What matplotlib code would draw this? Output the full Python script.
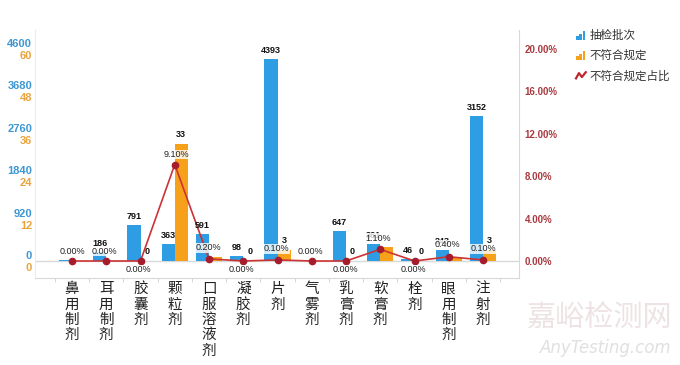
import matplotlib
matplotlib.use('Agg')
import matplotlib.pyplot as plt
import matplotlib.transforms as mtransforms
from matplotlib.legend_handler import HandlerBase
from matplotlib.patches import Rectangle, Patch
from matplotlib.lines import Line2D
import numpy as np

plt.rcParams['font.family'] = ['Noto Sans CJK SC', 'DejaVu Sans']

# ---------------- data ----------------
categories = ['鼻用制剂', '耳用制剂', '胶囊剂', '颗粒剂', '口服溶液剂', '凝胶剂', '片剂',
              '气雾剂', '乳膏剂', '软膏剂', '栓剂', '眼用制剂', '注射剂']
batches = [12, 186, 791, 363, 591, 98, 4393, 3, 647, 361, 46, 243, 3152]
noncompliant = [0, 0, 0, 33, 1, 0, 3, 0, 0, 4, 0, 1, 3]
rate_pct = [0.00, 0.00, 0.00, 9.10, 0.20, 0.00, 0.10, 0.00, 0.00, 1.10, 0.00, 0.40, 0.10]
batch_ticks = [0, 920, 1840, 2760, 3680, 4600]
nc_ticks = [0, 12, 24, 36, 48, 60]
rate_ticks = [0, 4, 8, 12, 16, 20]
series_names = ['抽检批次', '不符合规定', '不符合规定占比']

# ---------------- style ----------------
BLUE = '#2e9de3'
ORANGE = '#f7a11a'
RED = '#cc3333'
DRED = '#a51d2d'
BLUE_TXT = '#3d97d3'
ORANGE_TXT = '#e9a43f'
RATE_TXT = '#a83a3f'
GRID = '#d9d9d9'
NUM_FONT = ['Liberation Sans', 'DejaVu Sans']

show_batch_label = [False, True, True, True, True, True, True, False, True, True, True, True, True]
show_nc_label = [False, False, True, True, False, True, True, False, True, False, True, False, True]
rate_label_dy = [10, 10, -9, 10, 11, -9, 11, 10, -9, 11, -9, 12, 11]   # pixels
rate_label_dx = [0, -2, -2, 2, -1, -2, -1, -1, -1, -2, -1, -1, 0]

W, H = 680, 365
fig = plt.figure(figsize=(W / 100, H / 100), dpi=100)

ax_left, ax_right = 35, 519
ax_top, ax_bottom = 30, 278
zero_px, full_px = 261, 49
ax = fig.add_axes([ax_left / W, 1 - ax_bottom / H, (ax_right - ax_left) / W, (ax_bottom - ax_top) / H])

def lims(vmax):
    span = zero_px - full_px
    return (-(ax_bottom - zero_px) / span * vmax, (zero_px - ax_top) / span * vmax)

x = np.arange(len(categories))
c0, dc = 72, 34.25
bw = 0.38

ax2 = ax.twinx()
ax3 = ax.twinx()
for a in (ax, ax2, ax3):
    a.set_xlim((ax_left - c0) / dc, (ax_right - c0) / dc)
    for s in a.spines.values():
        s.set_visible(False)

ax.set_ylim(*lims(batch_ticks[-1]))
ax2.set_ylim(*lims(nc_ticks[-1]))
ax3.set_ylim(*lims(rate_ticks[-1]))

ax.spines['left'].set_visible(True)
ax.spines['left'].set_color('#ececec')
ax.spines['bottom'].set_visible(True)
ax.spines['bottom'].set_color(GRID)
ax3.spines['right'].set_visible(True)
ax3.spines['right'].set_color(GRID)
ax.axhline(0, color=GRID, lw=1.0, zorder=1)

ax.bar(x - bw / 2, batches, bw, color=BLUE, zorder=2)
ax2.bar(x + bw / 2, noncompliant, bw, color=ORANGE, zorder=2)
ax3.plot(x, rate_pct, color=RED, lw=1.2, marker='o', ms=4.5,
         markerfacecolor=DRED, markeredgecolor=DRED, zorder=4)

# y ticks
ax.set_yticks(batch_ticks)
ax.set_yticklabels([str(v) for v in batch_ticks])
ax2.yaxis.tick_left()
ax2.set_yticks(nc_ticks)
ax2.set_yticklabels([str(v) for v in nc_ticks])
ax3.set_yticks(rate_ticks)
ax3.set_yticklabels(['%.2f%%' % v for v in rate_ticks])

ax.tick_params(axis='y', length=0, pad=2, labelcolor=BLUE_TXT)
ax2.tick_params(axis='y', length=0, pad=2, labelcolor=ORANGE_TXT)
ax3.tick_params(axis='y', length=0, pad=4, labelcolor=RATE_TXT)
for lab in ax.get_yticklabels():
    lab.set_fontfamily(NUM_FONT); lab.set_fontweight('bold'); lab.set_fontsize(8)
    lab.set_transform(lab.get_transform() + mtransforms.ScaledTranslation(0, 6 / 100, fig.dpi_scale_trans))
for lab in ax2.get_yticklabels():
    lab.set_fontfamily(NUM_FONT); lab.set_fontweight('bold'); lab.set_fontsize(8)
    lab.set_transform(lab.get_transform() + mtransforms.ScaledTranslation(0, -6 / 100, fig.dpi_scale_trans))
for lab in ax3.get_yticklabels():
    lab.set_fontfamily(NUM_FONT); lab.set_fontweight('bold'); lab.set_fontsize(7)

# x ticks
ax.set_xticks(x)
ax.set_xticklabels(['\n'.join(c) for c in categories], fontsize=10.5, color='#222222',
                   linespacing=1.13, va='top')
ax.tick_params(axis='x', length=0, pad=3)
ax.set_xticks(np.arange(-0.5, len(categories), 1), minor=True)
ax.tick_params(axis='x', which='minor', length=3, color='#cfcfcf', direction='out')
for a in (ax2, ax3):
    a.tick_params(axis='x', length=0, labelbottom=False)

# value labels
pt = 72 / 100
for i in x:
    if show_batch_label[i]:
        ax3.annotate(str(batches[i]), xy=(i - bw / 2, batches[i] / batch_ticks[-1] * rate_ticks[-1]),
                     xytext=(0, 4 * pt), textcoords='offset points', ha='center', va='bottom',
                     fontsize=6.5, fontweight='bold', family=NUM_FONT, color='#111111', zorder=5)
    if show_nc_label[i]:
        ax3.annotate(str(noncompliant[i]), xy=(i + bw / 2, noncompliant[i] / nc_ticks[-1] * rate_ticks[-1]),
                     xytext=(0, 5 * pt), textcoords='offset points', ha='center', va='bottom',
                     fontsize=6.5, fontweight='bold', family=NUM_FONT, color='#111111', zorder=5)
for i in x:
    ax3.annotate('%.2f%%' % rate_pct[i], xy=(i, rate_pct[i]),
                 xytext=(rate_label_dx[i] * pt, rate_label_dy[i] * pt), textcoords='offset points',
                 ha='center', va='center', fontsize=6.5, family=NUM_FONT, color='#222222', zorder=6,
                 bbox=dict(boxstyle='square,pad=0.05', fc='white', ec='none', alpha=0.8))


# legend with small bar-chart icons
class BarIcon(HandlerBase):
    def create_artists(self, legend, orig_handle, xdescent, ydescent, width, height, fontsize, trans):
        col = orig_handle.get_facecolor()
        x0, y0 = -xdescent, -ydescent
        arts = []
        bwid = width / 3.6
        for k, frac in enumerate([0.45, 0.75, 1.05]):
            r = Rectangle((x0 + k * width / 3, y0 - 0.1 * height), bwid, frac * height,
                          facecolor=col, edgecolor='none', transform=trans)
            arts.append(r)
        return arts


class ZigIcon(HandlerBase):
    def create_artists(self, legend, orig_handle, xdescent, ydescent, width, height, fontsize, trans):
        x0, y0 = -xdescent, -ydescent
        ln = Line2D([x0, x0 + 0.3 * width, x0 + 0.6 * width, x0 + width],
                    [y0 + 0.15 * height, y0 + 0.75 * height, y0 + 0.3 * height, y0 + 0.85 * height],
                    color='#c0262d', lw=1.6, transform=trans)
        return [ln]


h1 = Patch(facecolor=BLUE)
h2 = Patch(facecolor=ORANGE)
h3 = Line2D([], [], color=RED)
fig.legend([h1, h2, h3], series_names, handler_map={h1: BarIcon(), h2: BarIcon(), h3: ZigIcon()},
           loc='upper left', bbox_to_anchor=(576 / W, 1 - 29 / H), frameon=False,
           handlelength=0.85, handleheight=0.8, handletextpad=0.35, labelspacing=0.62,
           prop={'size': 8.3}, labelcolor='#333333', borderaxespad=0, borderpad=0)

# watermark
fig.text(672 / W, 1 - 319 / H, '嘉峪检测网', fontsize=21, color='#eee3e4', ha='right', va='center')
fig.text(672 / W, 1 - 348 / H, 'AnyTesting.com', fontsize=12, color='#e0e0e0', style='italic',
         ha='right', va='center', family=['DejaVu Sans'])

fig.savefig('out.png', dpi=100, facecolor='white')
